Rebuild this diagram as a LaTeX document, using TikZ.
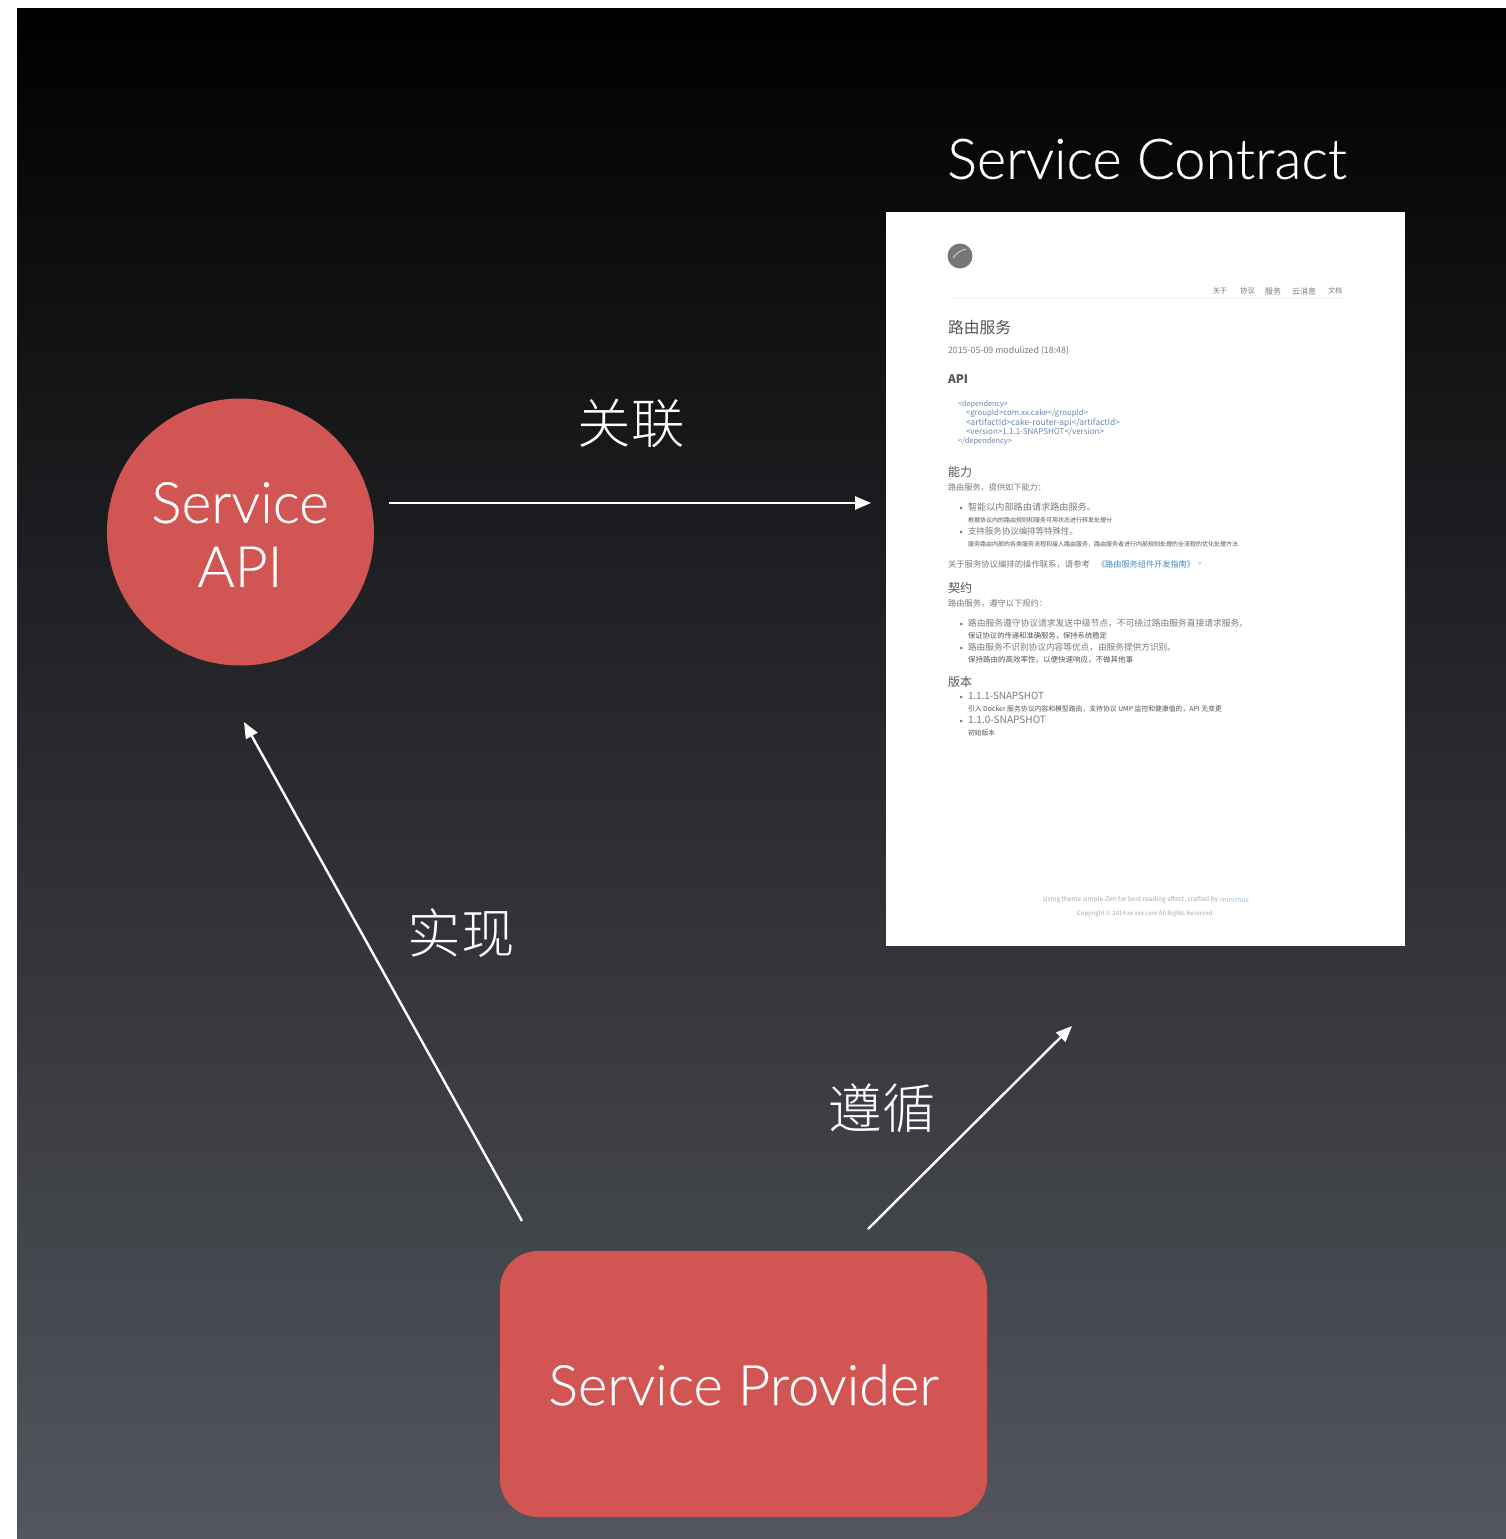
\documentclass[tikz,border=0pt]{standalone}
\usepackage{fontspec}
\usepackage{graphicx}
\usetikzlibrary{arrows.meta}
\setmainfont{Lato Light}[FakeBold=0.25]
\newfontfamily\cjk{Noto Sans CJK SC Light}
\newfontfamily\cjkb{Noto Sans CJK SC}
\definecolor{redfill}{HTML}{D15653}
\definecolor{linkblue}{HTML}{4A88BC}
\definecolor{codeblue}{HTML}{6C85B2}
\definecolor{docdark}{HTML}{555555}
\definecolor{docmid}{HTML}{7A7A7A}
\definecolor{docpale}{HTML}{A8A8A8}
\definecolor{bgbottom}{HTML}{53565E}
\tikzset{
  x=1pt,y=-1pt,
  label text/.style={text=white,font=\fontsize{56}{64}\selectfont,inner sep=0pt,align=center},
  cjk label/.style={text=white,font=\cjk\fontsize{53.5}{60}\selectfont,inner sep=0pt},
  flow/.style={draw=white,line width=2.4pt,-{Triangle[length=16pt,width=13pt]}},
  docline/.style={anchor=west,inner sep=0pt,outer sep=0pt},
  bulletdot/.style={circle,fill=docmid,inner sep=0pt,minimum size=3pt},
}
\newcommand{\dl}[6]{\node[docline,text=#5] (#1) at (#2,#3) {\resizebox{#4pt}{!}{\cjkb #6}};}
\begin{document}
\begin{tikzpicture}
\useasboundingbox (0,0) rectangle (1506,1539);
\fill[white] (0,0) rectangle (1506,1539);
\shade[top color=black,bottom color=bgbottom] (17,8) rectangle (1506,1539);

\node[circle,fill=redfill,minimum size=267pt,inner sep=0pt] (api) at (240.5,532) {};
\node[label text,font=\fontsize{57}{64}\selectfont] (apitext) at (240,534.5) {Service\\API};
\node[rounded corners=38pt,fill=redfill,minimum width=487pt,minimum height=266pt,inner sep=0pt] (provider) at (743.5,1384) {};
\node[label text] (providertext) at (743.5,1385) {Service Provider};
\node[label text] (contracttext) at (1147,159) {Service Contract};

\node[fill=white,minimum width=519pt,minimum height=734pt,inner sep=0pt] (doc) at (1145.5,579) {};

\node[cjk label] (l1) at (631,423) {关联};
\node[cjk label] (l2) at (461,933) {实现};
\node[cjk label] (l3) at (882,1108) {遵循};

\coordinate (a1) at (389,503);
\coordinate (a2) at (871,503);
\coordinate (b1) at (522,1221);
\coordinate (b2) at (244,722);
\coordinate (c1) at (868,1229);
\coordinate (c2) at (1072,1026);
\draw[flow] (a1) -- (a2);
\draw[flow] (b1) -- (b2);
\draw[flow] (c1) -- (c2);

% document thumbnail
\node[circle,fill=docdark!80!white,minimum size=25pt,inner sep=0pt] (logo) at (960,256) {};
\coordinate (s1) at (953,258);
\coordinate (s2) at (966,249);
\draw[white!75!black,line width=1.2pt] (s1) to[bend left=20] (s2);
\dl{n1}{1213}{291}{14}{docmid}{关于}
\dl{n2}{1240}{291}{15}{docmid}{协议}
\dl{n3}{1265}{291}{16}{docmid}{服务}
\dl{n4}{1292}{291}{24}{docmid}{云消息}
\dl{n5}{1328}{291}{14}{docmid}{文档}
\coordinate (r1) at (950,298);
\coordinate (r2) at (1345,298);
\draw[black!6,line width=0.8pt] (r1) -- (r2);
\dl{t1}{948}{328}{63}{docdark}{路由服务}
\dl{t2}{948}{351}{121}{docmid}{2015-05-09 modulized (18:48)}
\dl{t3}{948}{379}{20}{docdark}{\bfseries API}
\dl{c1}{958}{404}{50}{codeblue}{<dependency>}
\dl{c2}{966}{413}{122}{codeblue}{<groupId>com.xx.cake</groupId>}
\dl{c3}{966}{423}{154}{codeblue}{<artifactId>cake-router-api</artifactId>}
\dl{c4}{966}{432}{138}{codeblue}{<version>1.1.1-SNAPSHOT</version>}
\dl{c5}{958}{441}{54}{codeblue}{</dependency>}
\dl{h1}{948}{472}{24}{docdark}{能力}
\dl{b1t}{948}{487}{98}{docmid}{路由服务，提供如下能力：}
\node[bulletdot] (d1) at (961,508) {};
\dl{b2t}{968}{507}{128}{docmid}{智能以内部路由请求路由服务。}
\dl{b3t}{968}{520}{144}{docdark}{根据协议内的路由规则和服务可用状态进行转发处理分}
\node[bulletdot] (d2) at (961,532) {};
\dl{b4t}{968}{531}{110}{docmid}{支持服务协议编排等特殊性。}
\dl{b5t}{968}{544}{270}{docdark}{服务路由内部的各类服务流程和接入路由服务，路由服务者进行内部规则处理的全流程的优化处理方法}
\dl{b6t}{948}{564}{142}{docmid}{关于服务协议编排的操作联系，请参考}
\dl{b7t}{1097}{564}{98}{linkblue}{《路由服务组件开发指南》}
\dl{b8t}{1198}{564}{8}{docmid}{。}
\dl{h2}{948}{588}{24}{docdark}{契约}
\dl{k1}{948}{603}{99}{docmid}{路由服务，遵守以下规约：}
\node[bulletdot] (d3) at (961,624) {};
\dl{k2}{968}{623}{280}{docmid}{路由服务遵守协议请求发送中级节点，不可绕过路由服务直接请求服务。}
\dl{k3}{968}{636}{139}{docdark}{保证协议的传递和准确服务，保持系统稳定}
\node[bulletdot] (d4) at (961,648) {};
\dl{k4}{968}{647}{208}{docmid}{路由服务不识别协议内容等优点，由服务提供方识别。}
\dl{k5}{968}{660}{165}{docdark}{保持路由的高效率性，以便快速响应，不做其他事}
\dl{h3}{948}{682}{24}{docdark}{版本}
\node[bulletdot] (d5) at (961,697) {};
\dl{v1}{968}{696}{76}{docmid}{1.1.1-SNAPSHOT}
\dl{v2}{968}{709}{254}{docdark}{引入 Docker 服务协议内容和模型路由，支持协议 UMP 监控和健康值的，API 无变更}
\node[bulletdot] (d6) at (961,721) {};
\dl{v3}{968}{720}{78}{docmid}{1.1.0-SNAPSHOT}
\dl{v4}{968}{733}{27}{docdark}{初始版本}
\dl{f1}{1043}{900}{175}{docpale}{Using theme simple-Zen for best reading effect, crafted by}
\dl{f2}{1220}{900}{29}{linkblue!50}{minimus}
\dl{f3}{1077}{914}{137}{docpale}{Copyright © 2014 xx.xxx.com All Rights Reserved.}
\end{tikzpicture}
\end{document}
